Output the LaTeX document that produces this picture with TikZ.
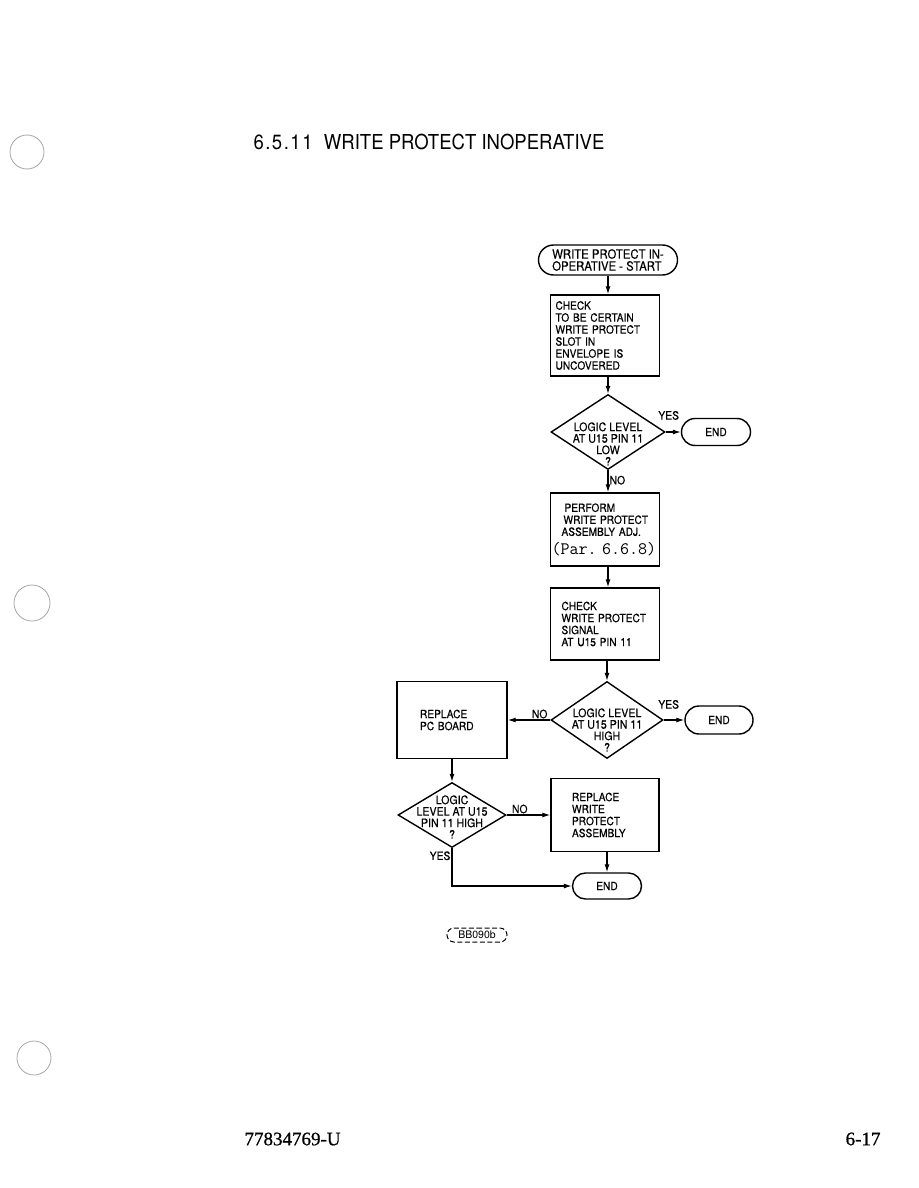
\documentclass[tikz,border=0pt]{standalone}
\usepackage{fontspec}
\setmainfont{TeX Gyre Heros}[FakeStretch=0.9,FakeBold=0.4]
\newfontfamily\titlefont{TeX Gyre Heros}[FakeStretch=0.9]
\newfontfamily\tagfont{TeX Gyre Heros}
\newfontfamily\footfont{Liberation Serif}[FakeBold=0.8]
\usetikzlibrary{arrows.meta,positioning,shapes.geometric,shapes.misc}

\begin{document}
\begin{tikzpicture}[x=1pt,y=-1pt,>={Latex[length=8pt,width=5pt]},
  box/.style={draw,line width=1.4pt,align=left,font=\fontsize{11.3}{12}\selectfont},
  terminal/.style={draw,rounded rectangle,line width=1.4pt,inner sep=2pt,font=\fontsize{11.3}{12}\selectfont},
  decision/.style={draw,diamond,line width=1.4pt,inner sep=0pt},
  decision text/.style={align=center,inner sep=0pt,font=\fontsize{11.8}{11.5}\selectfont},
  answer/.style={font=\fontsize{11.5}{12}\selectfont,inner sep=1pt},
  flow/.style={->,line width=1.2pt},
  hole/.style={draw=gray!70,line width=0.8pt}]
  \path[use as bounding box] (0,0) rectangle (918,1188);

  \draw[hole] (27,152) circle (17);
  \draw[hole] (32,603) circle (18);
  \draw[hole] (34,1058) circle (17);

  \node[font=\titlefont\fontsize{20.6}{24}\selectfont,anchor=west] (title) at (250,142)
    {6\kern1.5pt.\kern1.5pt5\kern1.5pt.\kern1.5pt1\kern1.5pt1\hspace{0.55em}WRITE PROTECT INOPERATIVE};

  \node[terminal,align=left,minimum width=143pt,minimum height=30pt,font=\fontsize{12.6}{12}\selectfont] (start) at (608,260)
    {WRITE PROTECT IN-\\OPERATIVE - START};
  \node[box,inner xsep=5pt,text width=99pt,minimum height=81pt] (box1) at (605,335.5)
    {CHECK\\TO BE CERTAIN\\WRITE PROTECT\\SLOT IN\\ENVELOPE IS\\UNCOVERED};
  \node[decision,minimum width=114pt,minimum height=75pt,
    label={[decision text,yshift=-12pt]center:{LOGIC LEVEL\\AT U15 PIN 11\\LOW\\?}}] (d1) at (608,432) {};
  \node[terminal,minimum width=73pt,minimum height=27pt] (end1) at (716,432) {END};
  \node[box,inner xsep=1pt,text width=107pt,minimum height=73pt] (box2) at (605,529.5)
    {\hspace*{13pt}PERFORM\\\hspace*{12pt}WRITE PROTECT\\\hspace*{10pt}ASSEMBLY ADJ.\\[5pt]{\ttfamily\fontsize{17.5}{17}\selectfont(Par. 6.6.8)}};
  \node[box,inner xsep=11pt,text width=87pt,minimum height=72pt] (box3) at (605,624)
    {CHECK\\WRITE PROTECT\\SIGNAL\\AT U15 PIN 11};
  \node[decision,minimum width=112pt,minimum height=77pt,
    label={[decision text,yshift=-10pt]center:{LOGIC LEVEL\\AT U15 PIN 11\\HIGH\\?}}] (d2) at (607,720) {};
  \node[terminal,minimum width=72pt,minimum height=28pt] (end2) at (719,720) {END};
  \node[box,inner xsep=23pt,text width=64pt,minimum height=77pt] (box4) at (452,720)
    {REPLACE\\PC BOARD};
  \node[decision,minimum width=108pt,minimum height=65pt,
    label={[decision text,yshift=-2pt]center:{LOGIC\\LEVEL AT U15\\PIN 11 HIGH\\?}}] (d3) at (452,815) {};
  \node[box,inner xsep=21pt,text width=66pt,minimum height=73pt] (box5) at (605,815)
    {REPLACE\\WRITE\\PROTECT\\ASSEMBLY};
  \node[terminal,minimum width=73pt,minimum height=26pt] (end3) at (607,886) {END};

  \draw[flow] (start.south) -- (box1.north -| start.south);
  \draw[flow] (box1.south -| d1.north) -- (d1.north);
  \draw[flow] (d1.east) -- (end1.west);
  \node[answer,above=11pt of d1.east,xshift=3pt] (yes1) {YES};
  \draw[flow] (d1.south) -- node[answer,right,pos=0.45] (no1) {NO} (box2.north -| d1.south);
  \draw[flow] (box2.south -| d1.south) -- (box3.north -| d1.south);
  \draw[flow] (box3.south -| d2.north) -- (d2.north);
  \draw[flow] (d2.east) -- (end2.west);
  \node[answer,above=10pt of d2.east,xshift=5pt] (yes2) {YES};
  \draw[flow] (d2.west) -- node[answer,above,pos=0.25] (no2) {NO} (box4.east);
  \draw[flow] (box4.south) -- (d3.north);
  \draw[flow] (d3.east) -- node[answer,above,pos=0.3] (no3) {NO} (box5.west);
  \draw[flow] (box5.south -| end3.north) -- (end3.north);
  \draw[flow] (d3.south) |- node[answer,left,pos=0.1] (yes3) {YES} (end3.west);

  \node[draw,dashed,dash pattern=on 5pt off 2.5pt,rounded rectangle,line width=1pt,inner sep=1.5pt,
    minimum width=63pt,minimum height=14pt,font=\tagfont\fontsize{10.5}{11}\selectfont] (tag) at (477,935) {BB090b};

  \node[font=\footfont\fontsize{19}{22}\selectfont,anchor=west] (docno) at (241,1139) {77834769-U};
  \node[font=\footfont\fontsize{19}{22}\selectfont,anchor=east] (page) at (884,1139) {6-17};
\end{tikzpicture}
\end{document}
